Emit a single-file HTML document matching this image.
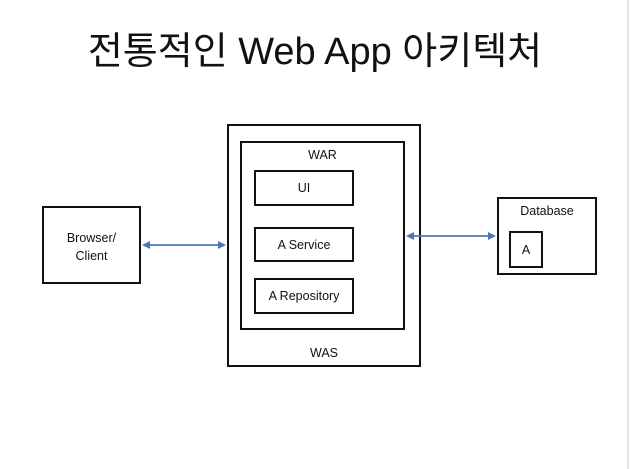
<!DOCTYPE html>
<html><head><meta charset="utf-8"><style>
body{margin:0;width:630px;height:469px;background:#fff;position:relative;overflow:hidden;font-family:"Liberation Sans","Noto Sans CJK KR",sans-serif;}
.b{position:absolute;border:2px solid #111;box-sizing:border-box;}
.t{position:absolute;font-size:12.5px;color:#111;text-align:center;}
</style></head><body>
<div style="position:absolute;right:1px;top:0;width:2px;height:469px;background:#e4e4e4"></div>
<div class="t" style="left:0;width:630px;top:28px;font-size:38px;line-height:48px;">전통적인 Web App 아키텍처</div>
<div class="b" style="left:42px;top:206px;width:99px;height:78px;"></div>
<div class="t" style="left:42px;width:99px;top:229px;line-height:18px;">Browser/<br>Client</div>
<div class="b" style="left:227px;top:124px;width:194px;height:243px;"></div>
<div class="b" style="left:240px;top:141px;width:165px;height:189px;"></div>
<div class="t" style="left:240px;width:165px;top:148px;">WAR</div>
<div class="t" style="left:227px;width:194px;top:346px;">WAS</div>
<div class="b" style="left:254px;top:170px;width:100px;height:36px;"></div>
<div class="t" style="left:254px;width:100px;top:181px;">UI</div>
<div class="b" style="left:254px;top:227px;width:100px;height:35px;"></div>
<div class="t" style="left:254px;width:100px;top:238px;">A Service</div>
<div class="b" style="left:254px;top:278px;width:100px;height:36px;"></div>
<div class="t" style="left:254px;width:100px;top:289px;">A Repository</div>
<div class="b" style="left:497px;top:197px;width:100px;height:78px;"></div>
<div class="t" style="left:497px;width:100px;top:204px;">Database</div>
<div class="b" style="left:509px;top:231px;width:34px;height:37px;"></div>
<div class="t" style="left:509px;width:34px;top:243px;">A</div>
<svg style="position:absolute;left:0;top:0" width="630" height="469">
<g stroke="#4a7ab5" stroke-width="1.8" fill="#4a7ab5">
<line x1="145" y1="245" x2="223" y2="245"/>
<polygon points="142,245 150,241 150,249" stroke="none"/>
<polygon points="226,245 218,241 218,249" stroke="none"/>
<line x1="409" y1="236" x2="493" y2="236"/>
<polygon points="406,236 414,232 414,240" stroke="none"/>
<polygon points="496,236 488,232 488,240" stroke="none"/>
</g></svg>
</body></html>
